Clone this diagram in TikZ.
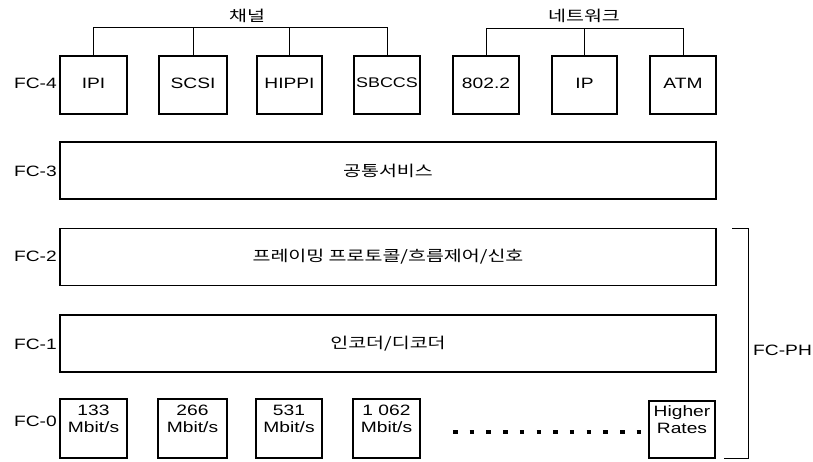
\documentclass[tikz,border=0pt]{standalone}
\usepackage{fontspec}
\setmainfont{Liberation Sans}[FakeStretch=1.28]
\newfontfamily\kr{Noto Sans CJK KR}[FakeStretch=1.3]
\newcommand{\krt}{\kr\fontsize{15}{18}\selectfont}
\begin{document}
\begin{tikzpicture}[x=1pt,y=-1pt,
  font=\fontsize{15}{17}\selectfont,
  box/.style={draw, line width=1.2pt, inner sep=0pt, minimum height=58pt},
  wide/.style={draw, line width=1.2pt, inner sep=0pt, minimum width=656pt, minimum height=57pt},
  lvl/.style={anchor=east, inner sep=0pt},
  txt/.style={inner sep=0pt, align=center},
  brk/.style={line width=0.9pt}]
\useasboundingbox (0,0) rectangle (813,461);
% FC-4
\node[box, minimum width=67pt] (ipi) at (93.5,85) {};
\node[box, minimum width=68pt] (scsi) at (193,85) {};
\node[box, minimum width=65pt] (hippi) at (289.5,85) {};
\node[box, minimum width=66pt] (sbccs) at (387,85) {};
\node[box, minimum width=66pt] (llc) at (486,85) {};
\node[box, minimum width=65pt] (ip) at (584.5,85) {};
\node[box, minimum width=66pt] (atm) at (683,85) {};
\node[txt] at ([yshift=2pt]ipi.center) {IPI};
\node[txt] at ([yshift=2pt]scsi.center) {SCSI};
\node[txt] at ([yshift=2pt]hippi.center) {HIPPI};
\node[txt] at ([yshift=2pt]sbccs.center) {\fontsize{14}{17}\selectfont SBCCS};
\node[txt] at ([yshift=2pt]llc.center) {802.2};
\node[txt] at ([yshift=2pt]ip.center) {IP};
\node[txt] at ([yshift=2pt]atm.center) {ATM};
\draw[brk] (ipi.north) -- (ipi.north |- 0,27) -| (sbccs.north);
\draw[brk] (scsi.north) -- (scsi.north |- 0,27);
\draw[brk] (hippi.north) -- (hippi.north |- 0,27);
\draw[brk] (llc.north) -- (llc.north |- 0,28) -| (atm.north);
\draw[brk] (ip.north) -- (ip.north |- 0,28);
\node (chan) at (247,16) {\krt 채널};
\node (net) at (584,16) {\krt 네트워크};
% FC-3..1
\node[wide] (fc3) at (388,170.5) {\krt 공통서비스};
\node[wide] (fc2) at (388,257) {\krt 프레이밍 프로토콜/흐름제어/신호};
\node[wide] (fc1) at (388,343.5) {\krt 인코더/디코더};
% FC-0
\node[box, minimum width=67pt, minimum height=59pt] (r1) at (93.5,428.5) {};
\node[box, minimum width=69pt, minimum height=59pt] (r2) at (192.5,428.5) {};
\node[box, minimum width=66pt, minimum height=59pt] (r3) at (289,428.5) {};
\node[box, minimum width=67pt, minimum height=59pt] (r4) at (386.5,428.5) {};
\node[box, minimum width=66pt, minimum height=57pt] (hr) at (682,429.5) {};
\node[txt] (t1) at ([yshift=10pt]r1.center) {133\\Mbit/s};
\node[txt] (t2) at ([yshift=10pt]r2.center) {266\\Mbit/s};
\node[txt] (t3) at ([yshift=10pt]r3.center) {531\\Mbit/s};
\node[txt] (t4) at ([yshift=10pt]r4.center) {1 062\\Mbit/s};
\node[txt] (t5) at ([yshift=10pt]hr.center) {Higher\\Rates};
\coordinate (d1) at (453,432);
\coordinate (d2) at (646,432);
\draw[line width=4.5pt, dash pattern=on 4.5pt off 12.2pt] (d1) -- (d2);
% levels
\node[lvl] (l4) at (57,83) {FC-4};
\node[lvl] (l3) at (57,171.5) {FC-3};
\node[lvl] (l2) at (57,256) {FC-2};
\node[lvl] (l1) at (57,344) {FC-1};
\node[lvl] (l0) at (57,421) {FC-0};
% FC-PH bracket
\coordinate (p1) at (732,228);
\coordinate (p2) at (748,458);
\coordinate (p3) at (724,458);
\draw[brk] (p1) -| (p2) -- (p3);
\node[anchor=west, inner sep=0pt] (ph) at (753,350) {FC-PH};
\end{tikzpicture}
\end{document}
